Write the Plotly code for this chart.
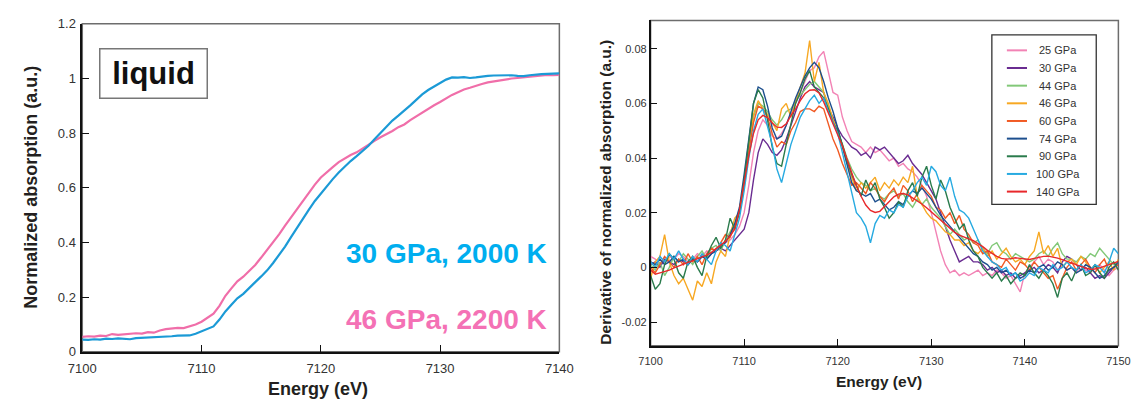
import plotly.graph_objects as go

W, H = 1148, 408
FONT = "Liberation Sans, Arial, sans-serif"

# ---------------- data: left panel (normalized absorption) ----------------
E_START, E_STEP = 7100.0, 0.5
energy_left = [E_START + E_STEP * i for i in range(81)]

abs_30GPa_2000K = [
    0.045, 0.044, 0.046, 0.045, 0.048, 0.047, 0.049, 0.048, 0.046, 0.050,
    0.051, 0.052, 0.054, 0.053, 0.056, 0.057, 0.059, 0.060, 0.060, 0.066,
    0.075, 0.083, 0.093, 0.118, 0.148, 0.172, 0.196, 0.212, 0.232, 0.255,
    0.276, 0.298, 0.325, 0.355, 0.385, 0.420, 0.455, 0.488, 0.520, 0.552,
    0.580, 0.606, 0.632, 0.656, 0.678, 0.698, 0.716, 0.735, 0.754, 0.778,
    0.801, 0.822, 0.846, 0.864, 0.882, 0.902, 0.922, 0.942, 0.958, 0.970,
    0.982, 0.996, 1.004, 1.003, 1.005, 1.002, 1.004, 1.008, 1.010, 1.011,
    1.012, 1.011, 1.012, 1.010, 1.009, 1.012, 1.015, 1.016, 1.017, 1.018,
    1.019,
]
abs_46GPa_2200K = [
    0.055, 0.057, 0.056, 0.059, 0.058, 0.065, 0.062, 0.064, 0.066, 0.068,
    0.067, 0.072, 0.070, 0.078, 0.083, 0.086, 0.088, 0.087, 0.093, 0.100,
    0.110, 0.125, 0.140, 0.168, 0.205, 0.232, 0.258, 0.275, 0.295, 0.318,
    0.345, 0.372, 0.402, 0.430, 0.462, 0.492, 0.525, 0.556, 0.585, 0.612,
    0.638, 0.658, 0.676, 0.694, 0.708, 0.720, 0.730, 0.745, 0.758, 0.772,
    0.785, 0.796, 0.808, 0.822, 0.832, 0.848, 0.862, 0.875, 0.890, 0.902,
    0.914, 0.928, 0.940, 0.950, 0.960, 0.966, 0.974, 0.980, 0.986, 0.990,
    0.994, 0.996, 1.000, 1.002, 1.004, 1.008, 1.010, 1.012, 1.013, 1.012,
    1.013,
]

# ---------------- data: right panel (derivative) ----------------
energy_right = [E_START + E_STEP * i for i in range(101)]

deriv_25 = [
    0.004, 0.003, 0.001, 0.002, 0.004, 0.003, 0.005, 0.004, 0.002, 0.003,
    0.005, 0.004, 0.006, 0.005, 0.007, 0.008, 0.009, 0.010, 0.012, 0.015,
    0.020, 0.030, 0.042, 0.050, 0.054, 0.052, 0.048, 0.047, 0.049, 0.052,
    0.056, 0.060, 0.064, 0.068, 0.072, 0.073, 0.077, 0.079, 0.071, 0.064,
    0.063, 0.055, 0.050, 0.046, 0.045, 0.044, 0.042, 0.044, 0.042, 0.043,
    0.041, 0.039, 0.040, 0.037, 0.038, 0.036, 0.035, 0.033, 0.030, 0.026,
    0.020, 0.013, 0.006, 0.001, -0.002, -0.001, -0.003, -0.002, -0.003, -0.002,
    -0.001, -0.003, -0.002, -0.003, -0.001, -0.002, -0.004, -0.003, -0.006, -0.009,
    -0.002, 0.000, 0.002, 0.004, 0.001, 0.003, 0.002, -0.001, 0.001, -0.001,
    0.000, -0.002, 0.001, -0.001, -0.002, 0.000, 0.001, -0.001, -0.003, -0.001,
    0.000,
]
deriv_30 = [
    0.001, 0.002, 0.000, 0.003, 0.002, 0.001, 0.003, 0.002, 0.001, 0.003,
    0.002, 0.004, 0.003, 0.005, 0.006, 0.007, 0.006, 0.008, 0.010, 0.012,
    0.014, 0.020, 0.032, 0.042, 0.047, 0.045, 0.042, 0.041, 0.043, 0.047,
    0.052, 0.057, 0.062, 0.066, 0.068, 0.066, 0.065, 0.064, 0.058, 0.055,
    0.051, 0.048, 0.046, 0.044, 0.043, 0.041, 0.042, 0.040, 0.044, 0.043,
    0.044, 0.042, 0.040, 0.038, 0.039, 0.041, 0.038, 0.036, 0.034, 0.031,
    0.028, 0.025, 0.020, 0.015, 0.010, 0.006, 0.002, 0.003, 0.004, 0.002,
    0.002, 0.001, -0.001, 0.000, -0.002, -0.001, -0.003, -0.002, -0.004, -0.003,
    -0.002, -0.001, 0.000, -0.002, -0.001, 0.001, 0.000, -0.002, 0.002, 0.004,
    0.003, 0.001, -0.001, 0.000, -0.002, -0.004, -0.003, -0.004, -0.002, 0.000,
    0.001,
]
deriv_44 = [
    0.001, -0.001, 0.002, -0.003, 0.000, 0.004, 0.002, 0.005, 0.003, 0.001,
    0.004, 0.006, 0.003, 0.007, 0.008, 0.006, 0.010, 0.013, 0.016, 0.021,
    0.031, 0.044, 0.055, 0.060, 0.059, 0.057, 0.054, 0.052, 0.054, 0.057,
    0.058, 0.061, 0.063, 0.065, 0.067, 0.068, 0.066, 0.064, 0.059, 0.054,
    0.050, 0.045, 0.040, 0.036, 0.033, 0.031, 0.030, 0.028, 0.029, 0.026,
    0.025, 0.027, 0.028, 0.026, 0.027, 0.024, 0.022, 0.025, 0.023, 0.025,
    0.022, 0.020, 0.018, 0.015, 0.012, 0.014, 0.012, 0.010, 0.011, 0.009,
    0.010, 0.007, 0.005, 0.008, 0.009, 0.006, 0.005, 0.003, 0.005, 0.004,
    0.003, 0.002, 0.003, 0.005, 0.006, 0.004, 0.007, 0.009, 0.005, 0.003,
    0.003, 0.002, 0.004, 0.003, 0.005, 0.004, 0.007, 0.005, 0.003, 0.001,
    0.002,
]
deriv_46 = [
    -0.004, 0.002, 0.004, 0.012, 0.002, -0.003, -0.006, -0.004, -0.008, -0.012,
    -0.005, -0.007, -0.002, -0.006, 0.002, 0.006, 0.004, 0.012, 0.018, 0.020,
    0.030, 0.045, 0.056, 0.061, 0.058, 0.056, 0.053, 0.050, 0.058, 0.060,
    0.055, 0.061, 0.066, 0.071, 0.083, 0.068, 0.075, 0.064, 0.060, 0.054,
    0.050, 0.044, 0.038, 0.033, 0.028, 0.031, 0.029, 0.031, 0.033, 0.028,
    0.031, 0.029, 0.032, 0.030, 0.033, 0.031, 0.037, 0.026, 0.023, 0.020,
    0.018, 0.017, 0.015, 0.013, 0.012, 0.010, 0.010, 0.008, 0.009, 0.006,
    0.005, 0.007, 0.004, 0.006, 0.003, 0.005, 0.007, 0.004, 0.002, 0.003,
    0.001, 0.004, 0.006, 0.013, 0.005, 0.008, 0.004, 0.007, 0.000, 0.002,
    0.003, 0.001, 0.004, 0.002, -0.001, 0.001, -0.002, 0.000, 0.002, -0.001,
    0.003,
]
deriv_60 = [
    0.000, -0.002, 0.001, 0.004, 0.002, 0.000, 0.003, 0.001, 0.005, 0.002,
    0.004, 0.001, 0.005, 0.007, 0.006, 0.009, 0.012, 0.011, 0.015, 0.021,
    0.030, 0.042, 0.053, 0.059, 0.058, 0.055, 0.049, 0.044, 0.046, 0.045,
    0.050, 0.053, 0.057, 0.058, 0.058, 0.057, 0.059, 0.058, 0.052, 0.047,
    0.043, 0.038, 0.034, 0.030, 0.031, 0.029, 0.027, 0.031, 0.029, 0.026,
    0.024, 0.027, 0.029, 0.025, 0.030, 0.028, 0.024, 0.027, 0.030, 0.028,
    0.026, 0.022, 0.021, 0.018, 0.020, 0.016, 0.019, 0.014, 0.012, 0.009,
    0.008, 0.005, 0.006, 0.002, 0.001, 0.000, 0.003, 0.001, -0.001, 0.002,
    0.001, -0.001, 0.002, 0.000, -0.002, -0.004, -0.003, -0.008, -0.004, 0.000,
    0.002, -0.001, 0.001, 0.003, 0.000, -0.002, 0.001, 0.003, -0.001, 0.000,
    0.001,
]
deriv_74 = [
    0.002, 0.001, 0.003, 0.001, 0.002, 0.004, 0.002, 0.003, 0.001, 0.003,
    0.002, 0.004, 0.003, 0.005, 0.006, 0.008, 0.009, 0.012, 0.016, 0.022,
    0.034, 0.048, 0.060, 0.066, 0.065, 0.059, 0.051, 0.047, 0.048, 0.052,
    0.057, 0.062, 0.066, 0.070, 0.073, 0.075, 0.073, 0.068, 0.062, 0.057,
    0.051, 0.044, 0.037, 0.031, 0.028, 0.027, 0.026, 0.027, 0.024, 0.025,
    0.023, 0.021, 0.022, 0.024, 0.023, 0.026, 0.028, 0.027, 0.029, 0.027,
    0.025, 0.022, 0.019, 0.017, 0.015, 0.013, 0.011, 0.009, 0.007, 0.005,
    0.004, 0.002, 0.001, -0.001, 0.000, -0.002, -0.001, -0.003, -0.002, -0.004,
    -0.003, -0.001, -0.002, 0.000, 0.001, -0.001, 0.000, 0.002, 0.001, -0.001,
    0.000, -0.002, -0.001, 0.001, 0.000, -0.002, -0.004, -0.003, -0.001, 0.000,
    0.002,
]
deriv_90 = [
    -0.003, -0.008, -0.006, 0.001, 0.005, 0.003, -0.002, -0.004, 0.002, 0.004,
    0.000, -0.003, 0.004, 0.008, 0.011, 0.007, 0.010, 0.018, 0.014, 0.020,
    0.032, 0.047, 0.060, 0.065, 0.062, 0.054, 0.044, 0.038, 0.037, 0.045,
    0.053, 0.060, 0.064, 0.069, 0.072, 0.066, 0.064, 0.062, 0.058, 0.053,
    0.050, 0.045, 0.039, 0.034, 0.030, 0.026, 0.032, 0.028, 0.031, 0.025,
    0.022, 0.018, 0.020, 0.024, 0.022, 0.028, 0.031, 0.026, 0.033, 0.037,
    0.030, 0.025, 0.032, 0.028, 0.022, 0.018, 0.014, 0.016, 0.010, 0.006,
    0.004, 0.000, -0.002, -0.004, -0.002, -0.005, -0.003, -0.006, -0.004, -0.002,
    -0.003, 0.001, -0.002, -0.004, -0.001, -0.003, -0.006, -0.011, -0.004, -0.002,
    -0.005, -0.001, 0.001, -0.003, -0.002, 0.001, -0.002, -0.004, 0.000, 0.002,
    -0.001,
]
deriv_100 = [
    0.002, 0.000, 0.004, 0.002, 0.005, 0.003, 0.006, 0.003, 0.001, 0.004,
    0.002, 0.005, 0.003, 0.001, 0.006, 0.009, 0.008, 0.006, 0.012, 0.018,
    0.028, 0.040, 0.050, 0.056, 0.058, 0.052, 0.045, 0.036, 0.031, 0.038,
    0.045, 0.050, 0.055, 0.058, 0.061, 0.063, 0.060, 0.062, 0.057, 0.053,
    0.049, 0.042, 0.035, 0.027, 0.020, 0.018, 0.015, 0.009, 0.016, 0.019,
    0.018, 0.021, 0.020, 0.023, 0.022, 0.026, 0.028, 0.031, 0.033, 0.030,
    0.037, 0.035, 0.030, 0.028, 0.033, 0.026, 0.021, 0.020, 0.018, 0.014,
    0.010, 0.006, 0.004, 0.002, 0.001, -0.001, 0.000, -0.003, -0.002, -0.005,
    -0.004, -0.002, -0.003, 0.000, -0.001, -0.002, 0.001, -0.001, 0.000, 0.002,
    0.000, -0.001, 0.001, -0.002, -0.001, 0.001, 0.000, -0.002, 0.002, 0.007,
    0.005,
]
deriv_140 = [
    -0.0010, -0.0025, -0.0020, -0.0015, -0.0010, -0.0002, 0.0005, 0.0010, 0.0018, 0.0024,
    0.0030, 0.0037, 0.0045, 0.0055, 0.0068, 0.0080, 0.0095, 0.0115, 0.0140, 0.0210,
    0.0310, 0.0410, 0.0490, 0.0540, 0.0556, 0.0548, 0.0528, 0.0513, 0.0512, 0.0525,
    0.0555, 0.0580, 0.0610, 0.0635, 0.0648, 0.0650, 0.0638, 0.0605, 0.0565, 0.0525,
    0.0490, 0.0445, 0.0395, 0.0345, 0.0298, 0.0260, 0.0228, 0.0208, 0.0201, 0.0205,
    0.0222, 0.0240, 0.0258, 0.0268, 0.0270, 0.0265, 0.0255, 0.0244, 0.0232, 0.0218,
    0.0203, 0.0188, 0.0172, 0.0157, 0.0142, 0.0128, 0.0118, 0.0110, 0.0104, 0.0098,
    0.0088, 0.0076, 0.0062, 0.0050, 0.0040, 0.0033, 0.0030, 0.0032, 0.0035, 0.0033,
    0.0030, 0.0029, 0.0033, 0.0037, 0.0040, 0.0041, 0.0038, 0.0034, 0.0028, 0.0022,
    0.0015, 0.0008, 0.0002, -0.0003, -0.0007, -0.0006, -0.0002, 0.0004, 0.0010, 0.0016,
    0.0022,
]

pressure_labels = ["25 GPa", "30 GPa", "44 GPa", "46 GPa", "60 GPa",
                   "74 GPa", "90 GPa", "100 GPa", "140 GPa"]
pressure_series = [deriv_25, deriv_30, deriv_44, deriv_46, deriv_60,
                   deriv_74, deriv_90, deriv_100, deriv_140]
pressure_colors = ["#f283b5", "#6a2c91", "#82c878", "#f7a823", "#f15a24",
                   "#1d4f8e", "#2a7b4c", "#27aae1", "#e8282b"]

left_x_ticks = [7100, 7110, 7120, 7130, 7140]
left_y_ticks = [0, 0.2, 0.4, 0.6, 0.8, 1.0, 1.2]
left_y_ticktext = ["0", "0.2", "0.4", "0.6", "0.8", "1", "1.2"]
right_x_ticks = [7100, 7110, 7120, 7130, 7140, 7150]
right_y_ticks = [-0.02, 0, 0.02, 0.04, 0.06, 0.08]
right_y_ticktext = ["-0.02", "0", "0.02", "0.04", "0.06", "0.08"]


def px(x):
    return x / W


def py(y):
    return 1 - y / H


fig = go.Figure()

fig.add_trace(go.Scatter(x=energy_left, y=abs_46GPa_2200K, mode="lines",
                         line=dict(color="#f06ea9", width=2.2),
                         xaxis="x", yaxis="y", showlegend=False))
fig.add_trace(go.Scatter(x=energy_left, y=abs_30GPa_2000K, mode="lines",
                         line=dict(color="#1b9ad6", width=2.2),
                         xaxis="x", yaxis="y", showlegend=False))

for name, ys, col in zip(pressure_labels, pressure_series, pressure_colors):
    fig.add_trace(go.Scatter(x=energy_right, y=ys, mode="lines", name=name,
                             line=dict(color=col, width=1.4),
                             xaxis="x2", yaxis="y2", showlegend=False))

# plot areas (pixel geometry)
L_X0, L_X1, L_Y0, L_Y1 = 70, 559, 17.5, 358
R_X0, R_X1, R_Y0, R_Y1 = 652.5, 1132, 14, 351.7

tickfont_l = dict(family=FONT, size=13, color="#333333")
tickfont_r = dict(family=FONT, size=11, color="#333333")
axis_common = dict(showgrid=False, zeroline=False, showline=True,
                   linecolor="#111111", linewidth=1.5, ticks="inside",
                   tickcolor="#111111", ticklen=7, tickwidth=1.2)

fig.update_layout(
    width=W, height=H, margin=dict(l=0, r=0, t=0, b=0),
    paper_bgcolor="white", plot_bgcolor="white", showlegend=False,
    xaxis=dict(domain=[px(L_X0), px(L_X1)], range=[7100, 7140], anchor="y",
               tickvals=left_x_ticks, tickfont=tickfont_l, ticklabelstandoff=4,
               **axis_common),
    yaxis=dict(domain=[py(L_Y1), py(L_Y0)], range=[0, 1.2], anchor="x",
               tickvals=left_y_ticks, ticktext=left_y_ticktext,
               tickfont=tickfont_l, ticklabelstandoff=2, **axis_common),
    xaxis2=dict(domain=[px(R_X0), px(R_X1)], range=[7100, 7150], anchor="y2",
                tickvals=right_x_ticks, tickfont=tickfont_r, ticklabelstandoff=4,
                **axis_common),
    yaxis2=dict(domain=[py(R_Y1), py(R_Y0)], range=[-0.02869, 0.09033], anchor="x2",
                tickvals=right_y_ticks, ticktext=right_y_ticktext,
                tickfont=tickfont_r, **axis_common),
)

shapes = []
# gray top/right frames
for xr, yr in (("x domain", "y domain"), ("x2 domain", "y2 domain")):
    shapes.append(dict(type="rect", xref=xr, yref=yr, x0=0, x1=1, y0=0, y1=1,
                       line=dict(color="#6d6d6d", width=1.5), layer="below"))

# legend box
LG_X0, LG_X1, LG_Y0, LG_Y1 = 1002.3, 1109.3, 29, 205
shapes.append(dict(type="rect", xref="paper", yref="paper",
                   x0=px(LG_X0), x1=px(LG_X1), y0=py(LG_Y1), y1=py(LG_Y0),
                   line=dict(color="#333333", width=1.3), fillcolor="white"))
annotations = []
ROW0, ROW_STEP = 45, 18.33
for i, (name, col) in enumerate(zip(pressure_labels, pressure_colors)):
    yy = ROW0 + i * ROW_STEP
    shapes.append(dict(type="line", xref="paper", yref="paper",
                       x0=px(1017.7), x1=px(1038.3), y0=py(yy), y1=py(yy),
                       line=dict(color=col, width=2)))
    annotations.append(dict(xref="paper", yref="paper", x=px(1070.6), y=py(yy),
                            text=name, showarrow=False, xanchor="center",
                            yanchor="middle",
                            font=dict(family=FONT, size=11, color="#333333")))

# left panel texts
annotations += [
    dict(xref="paper", yref="paper", x=px(142.5), y=py(69), text="<b>liquid</b>",
         showarrow=False, xanchor="center", yanchor="middle", width=106, height=48,
         bordercolor="#777777", borderwidth=1.5, borderpad=0, bgcolor="white",
         font=dict(family=FONT, size=31, color="#111111")),
    dict(xref="paper", yref="paper", x=px(548), y=py(256), text="<b>30 GPa, 2000 K</b>",
         showarrow=False, xanchor="right", yanchor="middle",
         font=dict(family=FONT, size=28, color="#00aeef")),
    dict(xref="paper", yref="paper", x=px(548), y=py(324), text="<b>46 GPa, 2200 K</b>",
         showarrow=False, xanchor="right", yanchor="middle",
         font=dict(family=FONT, size=28, color="#f471b5")),
    # axis titles
    dict(xref="paper", yref="paper", x=px(312), y=py(397), text="<b>Energy (eV)</b>",
         showarrow=False, xanchor="center", yanchor="middle",
         font=dict(family=FONT, size=18, color="#231f20")),
    dict(xref="paper", yref="paper", x=px(17.5), y=py(187.5),
         text="<b>Normalized absorption (a.u.)</b>", textangle=-90,
         showarrow=False, xanchor="center", yanchor="middle",
         font=dict(family=FONT, size=18, color="#231f20")),
    dict(xref="paper", yref="paper", x=px(887), y=py(389.3), text="<b>Energy (eV)</b>",
         showarrow=False, xanchor="center", yanchor="middle",
         font=dict(family=FONT, size=15.5, color="#231f20")),
    dict(xref="paper", yref="paper", x=px(606), y=py(192.5),
         text="<b>Derivative of normalized absorption (a.u.)</b>", textangle=-90,
         showarrow=False, xanchor="center", yanchor="middle",
         font=dict(family=FONT, size=15.5, color="#231f20")),
]

fig.update_layout(shapes=shapes, annotations=annotations)
fig.write_html("out.html")
